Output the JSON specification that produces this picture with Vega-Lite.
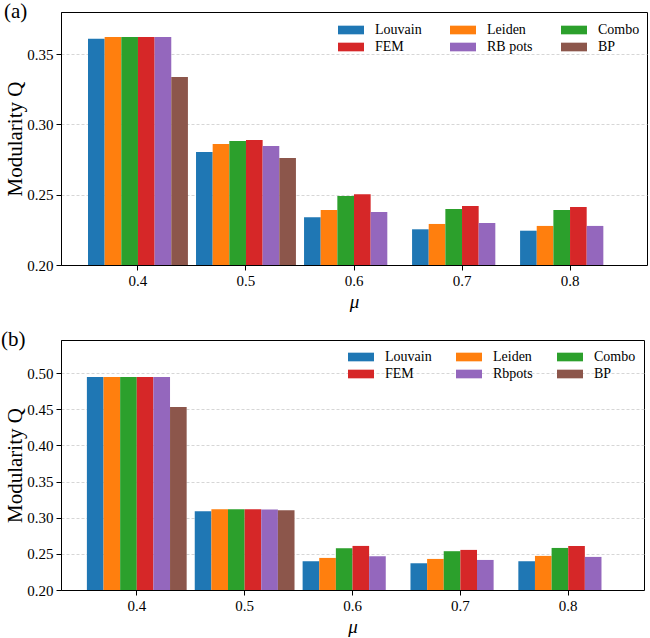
{
  "$schema": "https://vega.github.io/schema/vega-lite/v6.json",
  "padding": {"left": 0, "top": 0, "right": 3, "bottom": 0},
  "datasets": {
    "panelA": [
      {"mu": "0.4", "method": "Louvain", "Q": 0.361},
      {"mu": "0.4", "method": "Leiden", "Q": 0.3623},
      {"mu": "0.4", "method": "Combo", "Q": 0.3623},
      {"mu": "0.4", "method": "FEM", "Q": 0.3623},
      {"mu": "0.4", "method": "RB pots", "Q": 0.3623},
      {"mu": "0.4", "method": "BP", "Q": 0.3338},
      {"mu": "0.5", "method": "Louvain", "Q": 0.2804},
      {"mu": "0.5", "method": "Leiden", "Q": 0.2861},
      {"mu": "0.5", "method": "Combo", "Q": 0.2883},
      {"mu": "0.5", "method": "FEM", "Q": 0.289},
      {"mu": "0.5", "method": "RB pots", "Q": 0.2847},
      {"mu": "0.5", "method": "BP", "Q": 0.2762},
      {"mu": "0.6", "method": "Louvain", "Q": 0.234},
      {"mu": "0.6", "method": "Leiden", "Q": 0.2392},
      {"mu": "0.6", "method": "Combo", "Q": 0.2491},
      {"mu": "0.6", "method": "FEM", "Q": 0.2503},
      {"mu": "0.6", "method": "RB pots", "Q": 0.2377},
      {"mu": "0.7", "method": "Louvain", "Q": 0.2254},
      {"mu": "0.7", "method": "Leiden", "Q": 0.2292},
      {"mu": "0.7", "method": "Combo", "Q": 0.2399},
      {"mu": "0.7", "method": "FEM", "Q": 0.242},
      {"mu": "0.7", "method": "RB pots", "Q": 0.2299},
      {"mu": "0.8", "method": "Louvain", "Q": 0.2244},
      {"mu": "0.8", "method": "Leiden", "Q": 0.2278},
      {"mu": "0.8", "method": "Combo", "Q": 0.2392},
      {"mu": "0.8", "method": "FEM", "Q": 0.2413},
      {"mu": "0.8", "method": "RB pots", "Q": 0.2278}
    ],
    "panelB": [
      {"mu": "0.4", "method": "Louvain", "Q": 0.4949},
      {"mu": "0.4", "method": "Leiden", "Q": 0.4949},
      {"mu": "0.4", "method": "Combo", "Q": 0.4949},
      {"mu": "0.4", "method": "FEM", "Q": 0.4949},
      {"mu": "0.4", "method": "Rbpots", "Q": 0.4949},
      {"mu": "0.4", "method": "BP", "Q": 0.4533},
      {"mu": "0.5", "method": "Louvain", "Q": 0.3091},
      {"mu": "0.5", "method": "Leiden", "Q": 0.3119},
      {"mu": "0.5", "method": "Combo", "Q": 0.3119},
      {"mu": "0.5", "method": "FEM", "Q": 0.3119},
      {"mu": "0.5", "method": "Rbpots", "Q": 0.3114},
      {"mu": "0.5", "method": "BP", "Q": 0.3105},
      {"mu": "0.6", "method": "Louvain", "Q": 0.2398},
      {"mu": "0.6", "method": "Leiden", "Q": 0.2444},
      {"mu": "0.6", "method": "Combo", "Q": 0.2578},
      {"mu": "0.6", "method": "FEM", "Q": 0.261},
      {"mu": "0.6", "method": "Rbpots", "Q": 0.2467},
      {"mu": "0.7", "method": "Louvain", "Q": 0.237},
      {"mu": "0.7", "method": "Leiden", "Q": 0.243},
      {"mu": "0.7", "method": "Combo", "Q": 0.2537},
      {"mu": "0.7", "method": "FEM", "Q": 0.2555},
      {"mu": "0.7", "method": "Rbpots", "Q": 0.2416},
      {"mu": "0.8", "method": "Louvain", "Q": 0.2398},
      {"mu": "0.8", "method": "Leiden", "Q": 0.2472},
      {"mu": "0.8", "method": "Combo", "Q": 0.2582},
      {"mu": "0.8", "method": "FEM", "Q": 0.261},
      {"mu": "0.8", "method": "Rbpots", "Q": 0.2458}
    ]
  },
  "spacing": 16,
  "vconcat": [
    {
      "width": 586,
      "height": 253,
      "title": {"text": "(a)", "dx": -57, "dy": 14},
      "data": {"name": "panelA"},
      "mark": {"type": "bar"},
      "encoding": {
        "x": {
          "field": "mu", "type": "ordinal", "title": "μ",
          "scale": {"paddingInner": 0.075, "paddingOuter": 0.25},
          "axis": {"bandPosition": 0.5}
        },
        "xOffset": {
          "field": "method", "type": "nominal",
          "scale": {"domain": ["Louvain", "Leiden", "Combo", "FEM", "RB pots", "BP"], "paddingInner": 0, "paddingOuter": 0}
        },
        "y": {
          "field": "Q", "type": "quantitative", "title": "Modularity Q",
          "scale": {"domain": [0.2, 0.38], "nice": false, "zero": false},
          "axis": {"values": [0.2, 0.25, 0.3, 0.35], "format": ".2f"}
        },
        "y2": {"datum": 0.2},
        "color": {
          "field": "method", "type": "nominal",
          "scale": {
            "domain": ["Louvain", "FEM", "Leiden", "RB pots", "Combo", "BP"],
            "range": ["#1f77b4", "#d62728", "#ff7f0e", "#9467bd", "#2ca02c", "#8c564b"]
          },
          "legend": {
            "orient": "none", "legendX": 281, "legendY": 9, "columns": 3, "title": null, "padding": 0,
            "symbolType": "M-1.5,-0.5L1.5,-0.5L1.5,0.5L-1.5,0.5Z", "symbolSize": 300,
            "symbolStrokeWidth": 0, "symbolOpacity": 1,
            "labelFont": "Liberation Serif", "labelFontWeight": 400, "labelFontSize": 14, "labelColor": "#000000",
            "labelOffset": 15, "columnPadding": 28, "rowPadding": 1
          }
        }
      }
    },
    {
      "width": 583,
      "height": 250,
      "title": {"text": "(b)", "dx": -60, "dy": 14},
      "data": {"name": "panelB"},
      "mark": {"type": "bar"},
      "encoding": {
        "x": {
          "field": "mu", "type": "ordinal", "title": "μ",
          "scale": {"paddingInner": 0.075, "paddingOuter": 0.24},
          "axis": {"bandPosition": 0.5}
        },
        "xOffset": {
          "field": "method", "type": "nominal",
          "scale": {"domain": ["Louvain", "Leiden", "Combo", "FEM", "Rbpots", "BP"], "paddingInner": 0, "paddingOuter": 0}
        },
        "y": {
          "field": "Q", "type": "quantitative", "title": "Modularity Q",
          "scale": {"domain": [0.2, 0.546], "nice": false, "zero": false},
          "axis": {"values": [0.2, 0.25, 0.3, 0.35, 0.4, 0.45, 0.5], "format": ".2f"}
        },
        "y2": {"datum": 0.2},
        "color": {
          "field": "method", "type": "nominal",
          "scale": {
            "domain": ["Louvain", "FEM", "Leiden", "Rbpots", "Combo", "BP"],
            "range": ["#1f77b4", "#d62728", "#ff7f0e", "#9467bd", "#2ca02c", "#8c564b"]
          },
          "legend": {
            "orient": "none", "legendX": 291, "legendY": 8, "columns": 3, "title": null, "padding": 0,
            "symbolType": "M-1.5,-0.5L1.5,-0.5L1.5,0.5L-1.5,0.5Z", "symbolSize": 300,
            "symbolStrokeWidth": 0, "symbolOpacity": 1,
            "labelFont": "Liberation Serif", "labelFontWeight": 400, "labelFontSize": 14, "labelColor": "#000000",
            "labelOffset": 15, "columnPadding": 24, "rowPadding": 1
          }
        }
      }
    }
  ],
  "resolve": {
    "scale": {"color": "independent", "xOffset": "independent", "x": "independent", "y": "independent"},
    "legend": {"color": "independent"}
  },
  "config": {
    "font": "Liberation Serif",
    "view": {"stroke": "black", "strokeWidth": 1},
    "title": {"font": "Liberation Serif", "fontSize": 21, "fontWeight": "normal", "anchor": "start", "frame": "group", "color": "black", "offset": 0},
    "axis": {
      "labelFont": "Liberation Serif", "labelFontSize": 15, "labelColor": "black",
      "titleFont": "Liberation Serif", "titleFontWeight": "normal", "titleColor": "black",
      "domainColor": "black", "tickColor": "black", "tickSize": 5, "labelPadding": 3
    },
    "axisY": {"gridDash": [3, 2], "gridColor": "#cccccc", "gridWidth": 0.8, "titleFontSize": 21, "titlePadding": 1},
    "axisX": {"grid": false, "labelAngle": 0, "titleFontSize": 19, "titlePadding": 4, "titleFontStyle": "italic"}
  }
}
